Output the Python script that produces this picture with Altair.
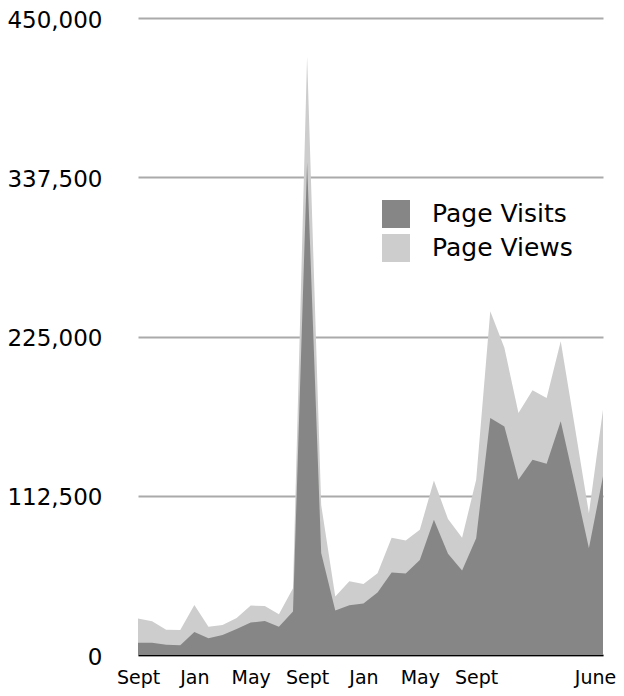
import altair as alt
import pandas as pd

months = ["Sept", "Oct", "Nov", "Dec", "Jan", "Feb", "Mar", "Apr", "May", "Jun", "Jul", "Aug",
          "Sept", "Oct", "Nov", "Dec", "Jan", "Feb", "Mar", "Apr", "May", "Jun", "Jul", "Aug",
          "Sept", "Oct", "Nov", "Dec", "Jan", "Feb", "Mar", "Apr", "May", "June"]
page_visits = [8700, 8700, 7300, 6800, 16300, 11800, 14200, 18400, 22900, 24000, 20000, 30700,
               348000, 72000, 31400, 35100, 36300, 44100, 58300, 57500, 67200, 95500, 71500, 59700,
               82500, 167400, 161500, 123800, 138000, 135100, 165100, 120800, 75500, 126200]
page_views = [25700, 23800, 17900, 17700, 35400, 20000, 21200, 26200, 34900, 34700, 28800, 47200,
              423000, 106000, 41300, 52100, 50200, 57800, 82800, 80900, 88400, 123300, 96000, 82800,
              123800, 242900, 217000, 171000, 187000, 181600, 221700, 161300, 100200, 173300]
tick_index = [0, 4, 8, 12, 16, 20, 24, 33]
y_ticks = [0, 112500, 225000, 337500, 450000]
series_names = ["Page Visits", "Page Views"]
series_colors = ["#858685", "#cccdcc"]

rows = []
for i, m in enumerate(months):
    rows.append({"i": i, "month": m, "series": "Page Visits", "value": page_visits[i]})
    rows.append({"i": i, "month": m, "series": "Page Views", "value": page_views[i]})
df = pd.DataFrame(rows)

label_arr = "[" + ",".join("'" + (months[k] if k in tick_index else "") + "'" for k in range(len(months))) + "]"
last_i = len(months) - 1

FONT = "DejaVu Sans"

x_enc = alt.X("i:Q",
              scale=alt.Scale(domain=[0, last_i], nice=False, zero=False),
              axis=alt.Axis(values=tick_index, labelExpr=label_arr + "[datum.value]",
                            title=None, grid=False, ticks=False, domain=True,
                            domainColor="#000000", domainWidth=1.5,
                            labelFont=FONT, labelFontSize=19, labelColor="#000000",
                            labelBaseline="alphabetic", labelPadding=28,
                            labelOffset=alt.ConditionalAxisNumber(
                                condition={"test": f"datum.value == {last_i}", "value": -8},
                                value=0),
                            labelFlush=False, labelOverlap=False))
y_enc = alt.Y("value:Q",
              scale=alt.Scale(domain=[0, 450000], nice=False),
              axis=alt.Axis(values=y_ticks, labelExpr="format(datum.value, ',.0f')",
                            title=None, grid=True,
                            gridColor="#aaaaaa", gridWidth=2, ticks=False, domain=False,
                            labelFont=FONT, labelFontSize=23, labelColor="#000000",
                            labelPadding=36, labelOffset=2, labelFlush=False))
color_enc = alt.Color("series:N",
                      scale=alt.Scale(domain=series_names, range=series_colors),
                      legend=alt.Legend(title=None, orient="none", legendX=244, legendY=182,
                                        symbolType="square", symbolSize=784,
                                        symbolStrokeWidth=0, symbolOpacity=1,
                                        labelFont=FONT, labelFontSize=25, labelColor="#000000",
                                        labelOffset=22, rowPadding=6, padding=0))

base = alt.Chart(df)
views = base.transform_filter(alt.datum.series == "Page Views").mark_area(opacity=1).encode(
    x=x_enc, y=y_enc, color=color_enc)
visits = base.transform_filter(alt.datum.series == "Page Visits").mark_area(opacity=1).encode(
    x=x_enc, y=y_enc, color=color_enc)

chart = alt.layer(views, visits).properties(
    width=465, height=637,
    autosize=alt.AutoSizeParams(type="none"),
    padding={"left": 130, "top": 10, "right": 13, "bottom": 33},
    background="#ffffff",
).configure_view(stroke=None)

chart.save("out.html", embed_options={"renderer": "svg", "actions": False})
